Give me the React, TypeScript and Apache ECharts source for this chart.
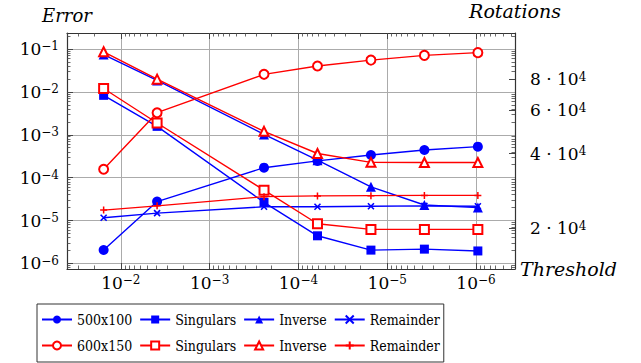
import React, { useEffect, useRef } from "react";
import * as echarts from "echarts";

// ---- data ----
const thresholds = [0.015625, 0.00390625, 0.000244140625, 0.00006103515625, 0.0000152587890625, 0.000003814697265625, 9.5367431640625e-7];

const rot500x100 = [16300, 25600, 35100, 37400, 39500, 41400, 42700];
const singulars500 = [8.3e-3, 1.57e-3, 2.65e-5, 4.4e-6, 2.04e-6, 2.15e-6, 1.95e-6];
const inverse500 = [0.074, 0.0185, 1.02e-3, 2.55e-4, 6.1e-5, 2.3e-5, 2.0e-5];
const remainder500 = [1.16e-5, 1.49e-5, 2.09e-5, 2.1e-5, 2.15e-5, 2.2e-5, 2.15e-5];

const rot600x150 = [34600, 58600, 83800, 90600, 95700, 100000, 102600];
const singulars600 = [0.012, 1.88e-3, 5.1e-5, 8.4e-6, 6.2e-6, 6.2e-6, 6.2e-6];
const inverse600 = [0.086, 0.0198, 1.2e-3, 3.65e-4, 2.27e-4, 2.25e-4, 2.25e-4];
const remainder600 = [1.75e-5, 2.2e-5, 3.6e-5, 3.75e-5, 3.8e-5, 3.85e-5, 3.85e-5];

// ---- axes ----
const xTicks = [1e-2, 1e-3, 1e-4, 1e-5, 1e-6];
const errorTicks = [1e-1, 1e-2, 1e-3, 1e-4, 1e-5, 1e-6];
const rotationTicks = [20000, 40000, 60000, 80000];
const minorMultipliers = [2, 3, 4, 5, 6, 7, 8, 9];
const decades = [1e-7, 1e-6, 1e-5, 1e-4, 1e-3, 1e-2, 1e-1];

const X_MIN = 3.64e-7, X_MAX = 0.0404;
const E_MIN = 7.4e-7, E_MAX = 0.236;
const R_MIN = 13650, R_MAX = 123200;

const minorTicks: number[] = [];
decades.forEach((d) => minorMultipliers.forEach((m) => minorTicks.push(m * d)));

const FONT = "DejaVu Serif";
const LEGEND_FONT = "DejaVu Serif Condensed, DejaVu Serif";
const BLUE = "#0000ff";
const RED = "#ff0000";
const AXIS = "#333333";
const TICK = "#444444";
const GRID = "#ababab";

const rich = {
  b: { fontFamily: FONT, fontSize: 17, color: "#000" },
  s: { fontFamily: FONT, fontSize: 12, color: "#000", verticalAlign: "top" as const },
};
const powLabel = (v: number) => `{b|10}{s|−${Math.abs(Math.round(Math.log10(v)))}}`;
const rotLabel = (v: number) => `{b|${Math.round(v / 10000)} · 10}{s|4}`;

const CROSS = "path://M0,0L10,10M10,0L0,10";
const PLUS = "path://M5,0L5,10M0,5L10,5";

const legendNames: Record<string, string> = {
  b1: "500x100", b2: "Singulars", b3: "Inverse", b4: "Remainder",
  r1: "600x150", r2: "Singulars", r3: "Inverse", r4: "Remainder",
};

function pairs(ys: number[]) {
  return thresholds.map((x, i) => [x, ys[i]]);
}

function mkSeries(id: string, ys: number[], yAxisIndex: number, color: string, symbol: string, size: number, filled: boolean, stroke = 1.4) {
  return {
    name: id,
    type: "line",
    xAxisIndex: 0,
    yAxisIndex,
    data: pairs(ys),
    symbol,
    symbolSize: size,
    lineStyle: { color, width: 1.4 },
    itemStyle: filled
      ? { color, borderWidth: 0 }
      : { color, borderColor: color, borderWidth: stroke },
    emphasis: { disabled: true },
  };
}

function hiddenLabels() {
  return { show: false };
}

export default function App() {
  const ref = useRef<HTMLDivElement>(null);
  useEffect(() => {
    if (!ref.current) return;
    const chart = echarts.init(ref.current, undefined, { renderer: "svg" });
    const commonX = { type: "log", inverse: true, min: X_MIN, max: X_MAX };
    const commonE = { type: "log", min: E_MIN, max: E_MAX };
    chart.setOption({
      animation: false,
      textStyle: { fontFamily: FONT },
      grid: { left: 67, right: 126, top: 33, bottom: 94, containLabel: false },
      xAxis: [
        {
          ...commonX,
          position: "bottom",
          axisLine: { show: true, onZero: false, lineStyle: { color: AXIS, width: 1.2 } },
          axisTick: { show: true, inside: true, length: 6, customValues: xTicks, lineStyle: { color: TICK } },
          axisLabel: { customValues: xTicks, formatter: powLabel, rich, margin: 5, fontFamily: FONT },
          splitLine: { show: true, lineStyle: { color: GRID, width: 1 } },
          minorTick: { show: false },
          name: "Threshold",
          nameLocation: "start",
          nameGap: 5,
          nameTextStyle: { fontFamily: FONT, fontStyle: "italic", fontSize: 19, color: "#000", verticalAlign: "middle" },
        },
        {
          ...commonX,
          position: "top",
          axisLine: { show: true, onZero: false, lineStyle: { color: AXIS, width: 1.2 } },
          axisTick: { show: true, inside: true, length: 6, customValues: xTicks, lineStyle: { color: TICK } },
          axisLabel: hiddenLabels(),
          splitLine: { show: false },
        },
        {
          ...commonX,
          position: "bottom",
          axisLine: { show: false },
          axisTick: { show: true, inside: true, length: 3.5, customValues: minorTicks, lineStyle: { color: TICK, width: 0.8 } },
          axisLabel: hiddenLabels(),
          splitLine: { show: false },
        },
        {
          ...commonX,
          position: "top",
          axisLine: { show: false },
          axisTick: { show: true, inside: true, length: 3.5, customValues: minorTicks, lineStyle: { color: TICK, width: 0.8 } },
          axisLabel: hiddenLabels(),
          splitLine: { show: false },
        },
      ],
      yAxis: [
        {
          ...commonE,
          position: "left",
          axisLine: { show: true, onZero: false, lineStyle: { color: AXIS, width: 1.2 } },
          axisTick: { show: true, inside: true, length: 6, customValues: errorTicks, lineStyle: { color: TICK } },
          axisLabel: { customValues: errorTicks, formatter: powLabel, rich, margin: 8, fontFamily: FONT },
          splitLine: { show: true, lineStyle: { color: GRID, width: 1 } },
          name: "Error",
          nameLocation: "end",
          nameGap: 9,
          nameTextStyle: { fontFamily: FONT, fontStyle: "italic", fontSize: 18, color: "#000" },
        },
        {
          type: "log",
          min: R_MIN,
          max: R_MAX,
          position: "right",
          axisLine: { show: true, onZero: false, lineStyle: { color: AXIS, width: 1.2 } },
          axisTick: { show: true, inside: true, length: 6, customValues: rotationTicks, lineStyle: { color: TICK } },
          axisLabel: { customValues: rotationTicks, formatter: rotLabel, rich, margin: 15, fontFamily: FONT },
          splitLine: { show: false },
          name: "Rotations",
          nameLocation: "end",
          nameGap: 13,
          nameTextStyle: { fontFamily: FONT, fontStyle: "italic", fontSize: 19, color: "#000" },
        },
        {
          ...commonE,
          position: "left",
          axisLine: { show: false },
          axisTick: { show: true, inside: true, length: 3.5, customValues: minorTicks, lineStyle: { color: TICK, width: 0.8 } },
          axisLabel: hiddenLabels(),
          splitLine: { show: false },
        },
        {
          ...commonE,
          position: "right",
          axisLine: { show: false },
          axisTick: { show: true, inside: true, length: 3.5, customValues: minorTicks, lineStyle: { color: TICK, width: 0.8 } },
          axisLabel: hiddenLabels(),
          splitLine: { show: false },
        },
      ],
      legend: {
        left: 37,
        top: 304,
        padding: [6, 4, 7, 4],
        itemWidth: 30,
        itemHeight: 10,
        itemGap: 7,
        borderColor: AXIS,
        borderWidth: 1,
        borderRadius: 0,
        backgroundColor: "#fff",
        selectedMode: false,
        textStyle: { fontFamily: LEGEND_FONT, fontSize: 14, color: "#000", lineHeight: 19 },
        formatter: (n: string) => legendNames[n] ?? n,
        data: ["b1", "b2", "b3", "b4", "\n", "r1", "r2", "r3", "r4"],
      },
      series: [
        mkSeries("b1", rot500x100, 1, BLUE, "circle", 10, true),
        mkSeries("b2", singulars500, 0, BLUE, "rect", 9, true),
        mkSeries("b3", inverse500, 0, BLUE, "triangle", 10, true),
        mkSeries("b4", remainder500, 0, BLUE, CROSS, 6, false, 1.6),
        mkSeries("r1", rot600x150, 1, RED, "emptyCircle", 9, false),
        mkSeries("r2", singulars600, 0, RED, "emptyRect", 9, false),
        mkSeries("r3", inverse600, 0, RED, "emptyTriangle", 9, false),
        mkSeries("r4", remainder600, 0, RED, PLUS, 7, false, 1.5),
      ],
    });
    return () => chart.dispose();
  }, []);
  return <div ref={ref} style={{ position: "fixed", left: 0, top: 0, width: 641, height: 363, background: "#fff" }} />;
}
